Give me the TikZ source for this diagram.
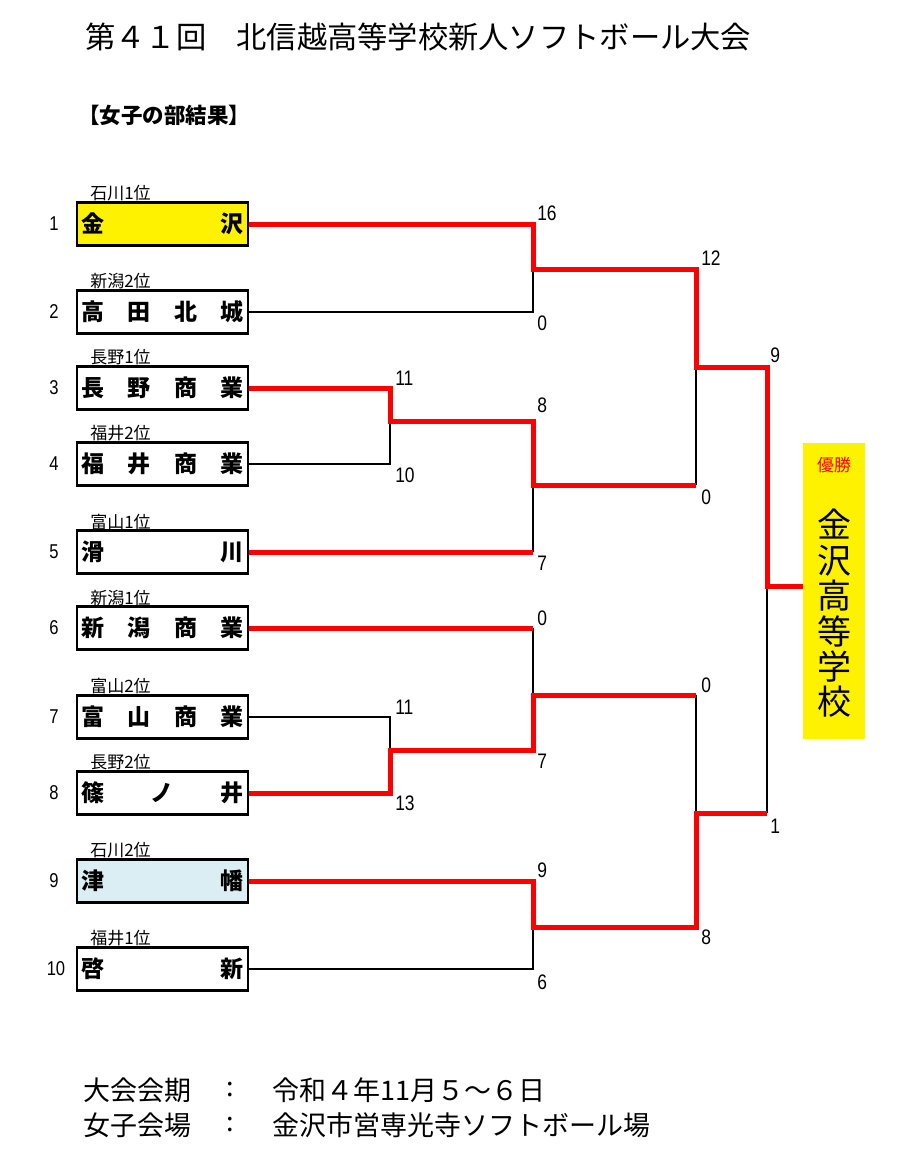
\documentclass[tikz,border=0pt]{standalone}
\usepackage{fontspec}
\newfontfamily\jp{Noto Sans CJK JP}
\newfontfamily\numf{Liberation Sans}[FakeStretch=0.83]
\definecolor{lblue}{RGB}{218,238,243}
\newcommand\tn[1]{\hbox to 121.5pt{#1}}
\tikzset{
 team/.style={draw=black, line width=1.875pt, minimum width=128.25pt, minimum height=32.25pt, inner sep=0pt, font=\jp\bfseries\fontsize{17.25pt}{20pt}\selectfont},
 pref/.style={anchor=west, inner sep=0pt, font=\jp\fontsize{12.75pt}{14pt}\selectfont},
 seed/.style={inner sep=0pt, font=\numf\fontsize{15pt}{17pt}\selectfont},
 score/.style={anchor=west, inner sep=0pt, font=\numf\fontsize{15.75pt}{17pt}\selectfont},
 win/.style={draw=red, line width=3.75pt},
 lose/.style={draw=black, line width=1.6pt},
 big/.style={anchor=west, inner sep=0pt, font=\jp\fontsize{20.25pt}{22pt}\selectfont},
}
\begin{document}
\begin{tikzpicture}[x=0.75pt,y=-0.75pt]
\path[use as bounding box, fill=white] (0,0) rectangle (900,1154);

% title
\node[anchor=west, inner sep=0pt, font=\jp\fontsize{22.7pt}{24pt}\selectfont] (title) at (85,37) {第４１回　北信越高等学校新人ソフトボール大会};
\node[anchor=west, inner sep=0pt, font=\jp\bfseries\fontsize{16.1pt}{18pt}\selectfont] (head) at (78,115) {【女子の部結果】};

% teams
\node[team, fill=yellow] (t1) at (162.5,224) {\tn{金\hfil 沢}};
\node[team] (t2) at (162.5,312) {\tn{高\hfil 田\hfil 北\hfil 城}};
\node[team] (t3) at (162.5,388) {\tn{長\hfil 野\hfil 商\hfil 業}};
\node[team] (t4) at (162.5,464) {\tn{福\hfil 井\hfil 商\hfil 業}};
\node[team] (t5) at (162.5,552) {\tn{滑\hfil 川}};
\node[team] (t6) at (162.5,628) {\tn{新\hfil 潟\hfil 商\hfil 業}};
\node[team] (t7) at (162.5,717) {\tn{富\hfil 山\hfil 商\hfil 業}};
\node[team] (t8) at (162.5,793) {\tn{篠\hfil ノ\hfil 井}};
\node[team, fill=lblue] (t9) at (162.5,881) {\tn{津\hfil 幡}};
\node[team] (t10) at (162.5,969) {\tn{啓\hfil 新}};

% prefecture labels
\node[pref] (p1) at (90,193) {石川1位};
\node[pref] (p2) at (90,281) {新潟2位};
\node[pref] (p3) at (90,357) {長野1位};
\node[pref] (p4) at (90,433) {福井2位};
\node[pref] (p5) at (90,522) {富山1位};
\node[pref] (p6) at (90,598) {新潟1位};
\node[pref] (p7) at (90,686) {富山2位};
\node[pref] (p8) at (90,762) {長野2位};
\node[pref] (p9) at (90,850) {石川2位};
\node[pref] (p10) at (90,938) {福井1位};

% seed numbers
\node[seed] (n1) at (54,224) {1};
\node[seed] (n2) at (54,312) {2};
\node[seed] (n3) at (54,388) {3};
\node[seed] (n4) at (54,464) {4};
\node[seed] (n5) at (54,552) {5};
\node[seed] (n6) at (54,628) {6};
\node[seed] (n7) at (54,717) {7};
\node[seed] (n8) at (54,793) {8};
\node[seed] (n9) at (54,881) {9};
\node[seed] (n10) at (56,969) {10};

% champion
\node[fill=yellow, minimum width=46.5pt, minimum height=222pt, inner sep=0pt] (champ) at (834,591) {};
\node[inner sep=0pt, text=red, font=\jp\fontsize{12.75pt}{14pt}\selectfont] (yusho) at (834,465) {優勝};
\node[inner sep=0pt, align=center, font=\jp\fontsize{25.5pt}{26.55pt}\selectfont] (cname) at (834,613.5) {金\\沢\\高\\等\\学\\校};

% junctions
\coordinate (jA) at (533,269);
\coordinate (jR1) at (390,421);
\coordinate (jB) at (533,485);
\coordinate (jR2) at (390,750);
\coordinate (jC) at (533,695);
\coordinate (jD) at (533,927);
\coordinate (jAB) at (696,367);
\coordinate (jCD) at (696,813);
\coordinate (jF) at (767,586);

% losing lines
\draw[lose] (t2.east) -| (jA);
\draw[lose] (t4.east) -| (jR1);
\draw[lose] (t7.east) -| (jR2);
\draw[lose] (t10.east) -| (jD);
\draw[lose] (t5.east -| jB) -- (jB);
\draw[lose] (t6.east -| jC) -- (jC);
\draw[lose] (jB -| jAB) -- (jAB);
\draw[lose] (jC -| jCD) -- (jCD);
\draw[lose] (jCD -| jF) -- (jF);

% winning lines
\draw[win] (t1.east) -| (jA) -| (jAB) -| (jF) -- (jF -| champ.west);
\draw[win] (t3.east) -| (jR1) -| (jB) -- (jB -| jAB);
\draw[win] (t5.east) -- (t5.east -| jB);
\draw[win] (t6.east) -- (t6.east -| jC);
\draw[win] (t8.east) -| (jR2) -| (jC) -- (jC -| jCD);
\draw[win] (t9.east) -| (jD) -| (jCD) -- (jCD -| jF);

% scores
\node[score] (s1) at (537,213) {16};
\node[score] (s2) at (537,323) {0};
\node[score] (s3) at (395,378) {11};
\node[score] (s4) at (395,475) {10};
\node[score] (s5) at (537,405) {8};
\node[score] (s6) at (537,563) {7};
\node[score] (s7) at (701,258) {12};
\node[score] (s8) at (701,497) {0};
\node[score] (s9) at (537,618) {0};
\node[score] (s10) at (537,761) {7};
\node[score] (s11) at (395,707) {11};
\node[score] (s12) at (395,803) {13};
\node[score] (s13) at (701,685) {0};
\node[score] (s14) at (701,937) {8};
\node[score] (s15) at (537,870) {9};
\node[score] (s16) at (537,982) {6};
\node[score] (s17) at (770,355) {9};
\node[score] (s18) at (770,826) {1};

% footer
\node[big] (k1) at (83,1090) {大会会期};
\node[big] (c1) at (226,1090) {:};
\node[big] (v1) at (272,1090) {令和４年11月５～６日};
\node[big] (k2) at (83,1125) {女子会場};
\node[big] (c2) at (226,1125) {:};
\node[big] (v2) at (272,1125) {金沢市営専光寺ソフトボール場};
\end{tikzpicture}
\end{document}
